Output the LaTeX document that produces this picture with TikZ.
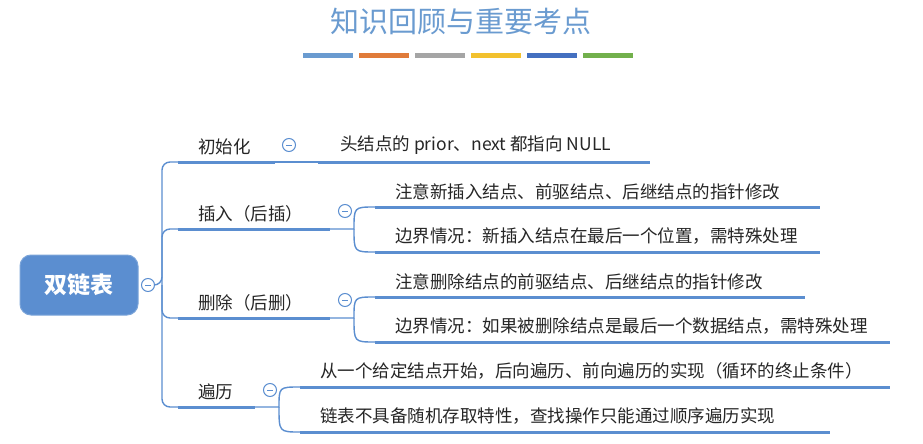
\documentclass[tikz,border=0pt]{standalone}
\usepackage{fontspec}
\setmainfont{Noto Sans CJK SC}
\begin{document}
\begin{tikzpicture}[x=1pt,y=-1pt,
  every node/.style={inner sep=0pt,font=\fontsize{17.5}{20}\selectfont,text=black!85},
  thin line/.style={draw=lineblue,line width=1.4pt,rounded corners=8pt},
  fork line/.style={draw=lineblue,line width=1.4pt},
  thick line/.style={draw=lineblue,line width=3pt},
  toggle/.style={circle,draw=lineblue,fill=white,line width=1pt,minimum size=13pt,
    path picture={\draw[lineblue,line width=0.9pt] ([xshift=-3pt]path picture bounding box.center)--([xshift=3pt]path picture bounding box.center);}},
  lbl/.style={anchor=south west}]
\definecolor{lineblue}{HTML}{5B8ED0}
\definecolor{titleblue}{HTML}{6A9BD0}
\useasboundingbox (0,0) rectangle (923,444);
\fill[white] (0,0) rectangle (923,444);
% title
\node[font=\fontsize{29}{32}\selectfont,text=titleblue] (title) at (461,22) {知识回顾与重要考点};
\foreach \c [count=\i] in {6A9BD0,E07B3A,A5A5A5,F2C12E,4470C0,72B04C}{
  \definecolor{bc}{HTML}{\c}
  \fill[bc] ({303+(\i-1)*56},53) rectangle ++(50,5);
}
% root
\node[draw=lineblue!80,line width=1pt,fill=lineblue,rounded corners=11pt,minimum width=118pt,minimum height=60pt,
  text=white,font=\fontsize{23}{26}\selectfont\bfseries] (root) at (79,285) {双链表};
\node[toggle] (t0) at (148,285) {};
% level-1 labels and underlines
\node[lbl] (l1) at (198,155) {初始化};
\node[lbl] (l2) at (198,222) {插入（后插）};
\node[lbl] (l3) at (198,311) {删除（后删）};
\node[lbl] (l4) at (198,400) {遍历};
\coordinate (a1) at (178,162); \coordinate (b1) at (275,162);
\coordinate (a2) at (178,229); \coordinate (b2) at (330,229);
\coordinate (a3) at (178,318); \coordinate (b3) at (330,318);
\coordinate (a4) at (178,407); \coordinate (b4) at (255,407);
\foreach \k in {1,...,4}{\draw[thick line] (a\k) -- (b\k);}
\coordinate (tr) at (162,285);
\draw[thin line] (t0.east) -- (tr) |- (a1);
\draw[thin line] (tr) |- (a4);
\draw[thin line] (tr) |- (a2);
\draw[thin line] (tr) |- (a3);
\node[toggle] (t1) at (289,145) {};
\node[toggle] (t2) at (345,211) {};
\node[toggle] (t3) at (345,300) {};
\node[toggle] (t4) at (270,390) {};
% children
\node[lbl] (c1) at (340,155) {头结点的 prior、next 都指向 NULL};
\node[lbl] (c21) at (395,200) {注意新插入结点、前驱结点、后继结点的指针修改};
\node[lbl] (c22) at (395,245) {边界情况：新插入结点在最后一个位置，需特殊处理};
\node[lbl] (c31) at (395,290) {注意删除结点的前驱结点、后继结点的指针修改};
\node[lbl] (c32) at (395,335) {边界情况：如果被删除结点是最后一个数据结点，需特殊处理};
\node[lbl] (c41) at (320,380) {从一个给定结点开始，后向遍历、前向遍历的实现（循环的终止条件）};
\node[lbl] (c42) at (320,425) {链表不具备随机存取特性，查找操作只能通过顺序遍历实现};
\coordinate (d1) at (318,162); \coordinate (e1) at (650,162);
\coordinate (d21) at (375,207); \coordinate (e21) at (820,207);
\coordinate (d22) at (375,252); \coordinate (e22) at (820,252);
\coordinate (d31) at (375,297); \coordinate (e31) at (805,297);
\coordinate (d32) at (375,342); \coordinate (e32) at (890,342);
\coordinate (d41) at (300,387); \coordinate (e41) at (890,387);
\coordinate (d42) at (300,432); \coordinate (e42) at (830,432);
\foreach \k in {1,21,22,31,32,41,42}{\draw[thick line] (d\k) -- (e\k);}
\draw[thin line] (b1) -- (d1);
\coordinate (f2) at (354,229); \coordinate (f3) at (354,318); \coordinate (f4) at (279,407);
\draw[fork line] (b2) -- (f2) .. controls (f2|-d21) .. (d21);
\draw[fork line] (f2) .. controls (f2|-d22) .. (d22);
\draw[fork line] (b3) -- (f3) .. controls (f3|-d31) .. (d31);
\draw[fork line] (f3) .. controls (f3|-d32) .. (d32);
\draw[fork line] (b4) -- (f4) .. controls (f4|-d41) .. (d41);
\draw[fork line] (f4) .. controls (f4|-d42) .. (d42);
\end{tikzpicture}
\end{document}
